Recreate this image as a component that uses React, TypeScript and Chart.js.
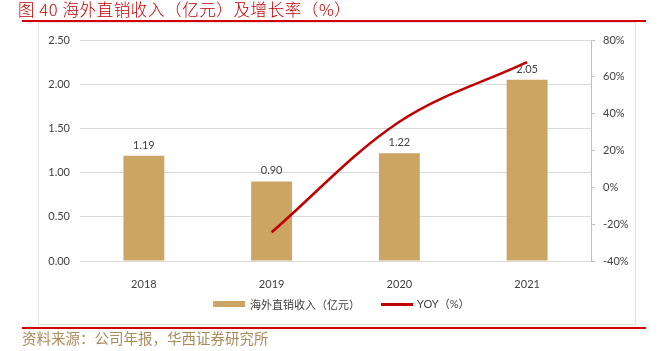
import React, { useEffect, useRef } from "react";
import { Chart, registerables } from "chart.js";

Chart.register(...registerables);

const categories = ["2018", "2019", "2020", "2021"];
const revenue = [1.19, 0.9, 1.22, 2.05];
const yoy = [null, -24.4, 35.6, 68.0];
const leftTicks = [0, 0.5, 1.0, 1.5, 2.0, 2.5];
const rightTicks = [-40, -20, 0, 20, 40, 60, 80];

const FONT = "Lato, 'Noto Sans CJK SC', sans-serif";
const TEXT = "#404040";
const BAR = "#CCA562";
const LINE = "#C00000";

const labelPlugin = {
  id: "barLabels",
  afterDatasetDraw(chart: any, args: any) {
    if (args.index !== 0) return;
    const ctx = chart.ctx;
    const meta = chart.getDatasetMeta(0);
    ctx.save();
    ctx.font = `11px ${FONT}`;
    ctx.fillStyle = TEXT;
    ctx.textAlign = "center";
    ctx.textBaseline = "bottom";
    meta.data.forEach((el: any, i: number) => {
      ctx.fillText(revenue[i].toFixed(2), el.x, el.y - 5);
    });
    ctx.restore();
  },
};

export default function App() {
  const ref = useRef<HTMLCanvasElement | null>(null);
  useEffect(() => {
    if (!ref.current) return;
    const chart = new Chart(ref.current, {
      type: "bar",
      data: {
        labels: categories,
        datasets: [
          {
            type: "bar",
            label: "海外直销收入（亿元）",
            data: revenue,
            backgroundColor: BAR,
            yAxisID: "y",
            order: 1,
            categoryPercentage: 1,
            barPercentage: 0.32,
          },
          {
            type: "line",
            label: "YOY（%）",
            data: yoy as any,
            borderColor: LINE,
            backgroundColor: LINE,
            borderWidth: 2.5,
            pointRadius: 0,
            tension: 0.35,
            yAxisID: "y1",
            order: 0,
          },
        ],
      },
      options: {
        animation: false,
        responsive: false,
        maintainAspectRatio: false,
        layout: { padding: { top: 18, left: 0, right: 0, bottom: 0 } },
        plugins: { legend: { display: false }, tooltip: { enabled: false } },
        scales: {
          x: {
            grid: { display: false },
            border: { display: false },
            ticks: { color: TEXT, font: { family: FONT, size: 11 }, padding: 9 },
            afterFit(s: any) {
              s.height = 64;
            },
          },
          y: {
            position: "left",
            min: 0,
            max: 2.5,
            afterBuildTicks(s: any) {
              s.ticks = leftTicks.map((v) => ({ value: v }));
            },
            grid: { color: "#D9D9D9", drawTicks: false, lineWidth: 1 },
            border: { display: false },
            ticks: {
              color: TEXT,
              font: { family: FONT, size: 11 },
              padding: 10,
              callback: (v: any) => Number(v).toFixed(2),
            },
            afterFit(s: any) {
              s.width = 42;
            },
          },
          y1: {
            position: "right",
            min: -40,
            max: 80,
            afterBuildTicks(s: any) {
              s.ticks = rightTicks.map((v) => ({ value: v }));
            },
            grid: { drawOnChartArea: false, drawTicks: true, tickLength: 4, color: "#BFBFBF" },
            border: { display: true, color: "#BFBFBF", width: 1 },
            ticks: {
              color: TEXT,
              font: { family: FONT, size: 11 },
              padding: 8,
              callback: (v: any) => `${v}%`,
            },
            afterFit(s: any) {
              s.width = 45;
            },
          },
        },
      },
      plugins: [labelPlugin],
    } as any);
    return () => chart.destroy();
  }, []);

  return (
    <div
      style={{
        position: "fixed",
        left: 0,
        top: 0,
        width: 663,
        height: 351,
        background: "#fff",
        fontFamily: "'Noto Sans CJK SC', sans-serif",
      }}
    >
      <div
        style={{
          position: "absolute",
          left: 18,
          top: 0,
          fontSize: 16.5,
          lineHeight: "18px",
          color: "#C00000",
          whiteSpace: "nowrap",
          letterSpacing: "0.6px",
          fontWeight: 300,
        }}
      >
        图 40 海外直销收入（亿元）及增长率（%）
      </div>
      <div style={{ position: "absolute", left: 22, top: 19.5, width: 624, height: 2, background: "#D40000" }} />
      <div
        style={{
          position: "absolute",
          left: 38,
          top: 22,
          width: 596,
          height: 301,
          border: "1px solid #E3E3E3",
        }}
      />
      <canvas
        ref={ref}
        width={598}
        height={303}
        style={{ position: "absolute", left: 38, top: 22, width: 598, height: 303 }}
      />
      <div style={{ position: "absolute", left: 213, top: 301, width: 32, height: 6, background: BAR }} />
      <div
        style={{
          position: "absolute",
          left: 250,
          top: 296,
          fontSize: 11,
          lineHeight: "16px",
          color: TEXT,
          whiteSpace: "nowrap",
        }}
      >
        海外直销收入（亿元）
      </div>
      <div style={{ position: "absolute", left: 381, top: 303, width: 32, height: 2.5, background: LINE }} />
      <div
        style={{
          position: "absolute",
          left: 417,
          top: 296,
          fontSize: 11,
          lineHeight: "16px",
          color: TEXT,
          whiteSpace: "nowrap",
          fontFamily: FONT,
        }}
      >
        YOY（%）
      </div>
      <div style={{ position: "absolute", left: 22, top: 326.5, width: 624, height: 2.5, background: "#D40000" }} />
      <div
        style={{
          position: "absolute",
          left: 22,
          top: 330,
          fontSize: 14.5,
          lineHeight: "16px",
          color: "#A88B5A",
          whiteSpace: "nowrap",
        }}
      >
        资料来源：公司年报，华西证券研究所
      </div>
    </div>
  );
}
